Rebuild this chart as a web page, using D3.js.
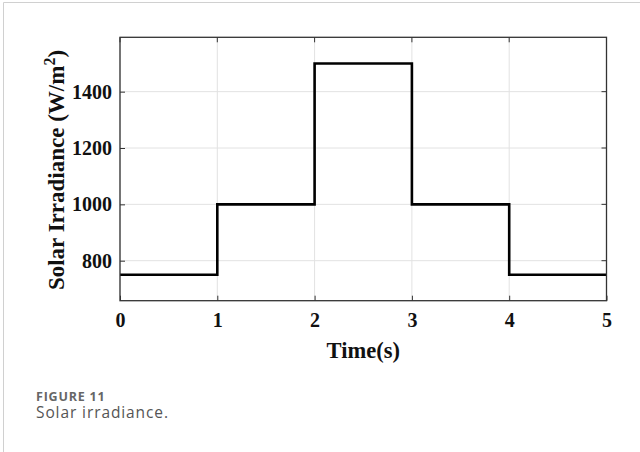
<!DOCTYPE html>
<html><head><meta charset="utf-8">
<script src="https://cdn.jsdelivr.net/npm/d3@7"></script>
<style>html,body{margin:0;padding:0;background:#fff;}svg{display:block;}</style>
</head><body>
<svg id="c" width="640" height="452"></svg>
<script>
// Data
const stepTimes = [0, 1, 2, 3, 4, 5];
const irradiance = [750, 1000, 1500, 1000, 750, 750];
const xTicks = [0, 1, 2, 3, 4, 5];
const yTicks = [800, 1000, 1200, 1400];

const svg = d3.select("#c");
// card border
svg.append("line").attr("x1",3.5).attr("x2",3.5).attr("y1",2.5).attr("y2",452).attr("stroke","#d0d0d0").attr("stroke-width",1);
svg.append("line").attr("x1",3.5).attr("x2",640).attr("y1",2.5).attr("y2",2.5).attr("stroke","#d0d0d0").attr("stroke-width",1);

const L=120, R=606.5, T=37.3, B=300.7;
const x = d3.scaleLinear().domain([0,5]).range([L,R]);
const y = d3.scaleLinear().domain([658,1593]).range([B,T]);
const serif = "'Liberation Serif','Times New Roman',serif";

const g = svg.append("g");
// grid
g.selectAll(".gx").data(xTicks).enter().append("line")
 .attr("x1",d=>x(d)).attr("x2",d=>x(d)).attr("y1",T).attr("y2",B)
 .attr("stroke","#e2e2e2").attr("stroke-width",1);
g.selectAll(".gy").data(yTicks).enter().append("line")
 .attr("x1",L).attr("x2",R).attr("y1",d=>y(d)).attr("y2",d=>y(d))
 .attr("stroke","#e2e2e2").attr("stroke-width",1);

// axes
const ax = d3.axisBottom(x).tickValues(xTicks).tickSize(-5).tickPadding(12).tickFormat(d3.format("d"));
const ay = d3.axisLeft(y).tickValues(yTicks).tickSize(-5).tickPadding(8).tickFormat(d3.format("d"));
const gx = g.append("g").attr("transform",`translate(0,${B})`).call(ax);
const gy = g.append("g").attr("transform",`translate(${L},0)`).call(ay);
[gx,gy].forEach(a=>{
  a.select(".domain").remove();
  a.selectAll(".tick line").attr("stroke","#333").attr("stroke-width",1);
  a.selectAll(".tick text").attr("font-family",serif)
   .attr("font-weight","bold").attr("font-size","20px").attr("fill","#111");
});
gx.selectAll(".tick text").attr("dy",null).attr("y",26.5);
// right/top ticks
g.selectAll(".tt").data(xTicks).enter().append("line")
 .attr("x1",d=>x(d)).attr("x2",d=>x(d)).attr("y1",T).attr("y2",T+5).attr("stroke","#333");
g.selectAll(".rt").data(yTicks).enter().append("line")
 .attr("x1",R).attr("x2",R-5).attr("y1",d=>y(d)).attr("y2",d=>y(d)).attr("stroke","#333");

// step line
const pts = stepTimes.map((t,i)=>[t, irradiance[i]]);
const line = d3.line().x(d=>x(d[0])).y(d=>y(d[1])).curve(d3.curveStepAfter);
g.append("path").datum(pts).attr("d",line).attr("fill","none")
 .attr("stroke","#000").attr("stroke-width",2.6).attr("stroke-linejoin","miter");

// box
g.append("rect").attr("x",L).attr("y",T).attr("width",R-L).attr("height",B-T)
 .attr("fill","none").attr("stroke","#333").attr("stroke-width",1.3);

// labels
svg.append("text").attr("x",(L+R)/2).attr("y",358).attr("text-anchor","middle")
 .attr("font-family",serif).attr("font-weight","bold")
 .attr("font-size","22.5px").attr("fill","#111").text("Time(s)");
const yl = svg.append("text").attr("transform",`translate(64,${(T+B)/2+1}) rotate(-90)`)
 .attr("text-anchor","middle").attr("font-family",serif)
 .attr("font-weight","bold").attr("font-size","23px").attr("fill","#111");
yl.append("tspan").text("Solar Irradiance (W/m");
yl.append("tspan").attr("dy",-9).attr("font-size","16px").text("2");
yl.append("tspan").attr("dy",9).text(")");

// caption
svg.append("text").attr("x",36).attr("y",400.5).attr("font-family","'Open Sans',Lato,sans-serif")
 .attr("font-weight","bold").attr("font-size","12.5px").attr("letter-spacing","0.8px").attr("fill","#666").text("FIGURE 11");
svg.append("text").attr("x",36).attr("y",417.5).attr("font-family","'Open Sans',Lato,sans-serif")
 .attr("font-size","15.5px").attr("letter-spacing","0.9px").attr("fill","#555").text("Solar irradiance.");
</script>
</body></html>
